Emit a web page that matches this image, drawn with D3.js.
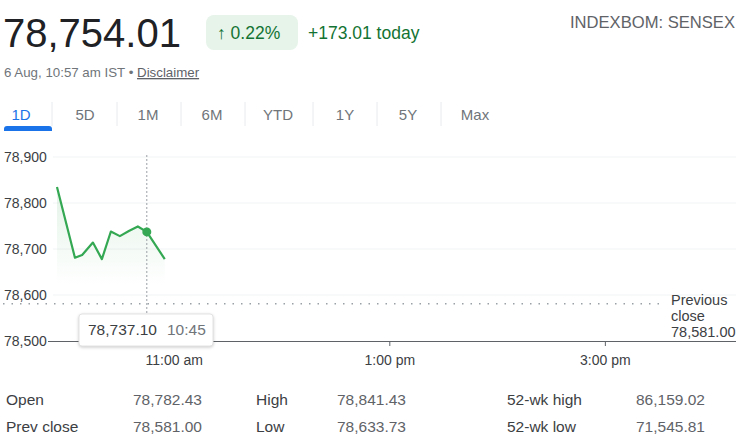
<!DOCTYPE html>
<html>
<head>
<meta charset="utf-8">
<script src="https://cdn.jsdelivr.net/npm/d3@7"></script>
<style>
  body { margin: 0; background: #fff; }
  svg { display: block; font-family: Arial, "Liberation Sans", sans-serif; }
</style>
</head>
<body>
<div id="chart"></div>
<script>
// intraday points (time, price)
const times = ['09:55', '10:05', '10:09', '10:15', '10:20', '10:25', '10:30', '10:35', '10:40', '10:45', '10:55'];
const prices = [78835, 78681, 78687, 78714, 78678, 78738, 78728, 78739, 78749, 78737.10, 78678];
const prevClose = 78581.00;
const yTicks = [78500, 78600, 78700, 78800, 78900];
const xTicks = ['11:00', '13:00', '15:00'];
const xTickLabels = ['11:00 am', '1:00 pm', '3:00 pm'];
const tabs = ['1D', '5D', '1M', '6M', 'YTD', '1Y', '5Y', 'Max'];
const statLabels = [['Open', 'Prev close'], ['High', 'Low'], ['52-wk high', '52-wk low']];
const statValues = [['78,782.43', '78,581.00'], ['78,841.43', '78,633.73'], ['86,159.02', '71,545.81']];

const width = 750;
const height = 441;
const green = '#34a853';

const parseTime = (s) => {
  const [h, m] = s.split(':').map(Number);
  return new Date(2024, 7, 6, h, m);
};

const data = times.map((t, i) => ({ date: parseTime(t), value: prices[i] }));
const hover = data[9];

const svg = d3.select('#chart')
  .append('svg')
  .attr('width', width)
  .attr('height', height);

// header
svg.append('text').attr('x', 3).attr('y', 47)
  .attr('font-size', 40).attr('fill', '#202124').text('78,754.01');

svg.append('rect').attr('x', 206).attr('y', 15).attr('width', 92).attr('height', 35)
  .attr('rx', 8).attr('fill', '#e6f4ea');
svg.append('text').attr('x', 217).attr('y', 39)
  .attr('font-size', 17.5).attr('fill', '#137333').text('\u2191 0.22%');
svg.append('text').attr('x', 308).attr('y', 39)
  .attr('font-size', 17.5).attr('fill', '#137333').text('+173.01 today');

svg.append('text').attr('x', 735).attr('y', 28).attr('text-anchor', 'end')
  .attr('font-size', 16.6).attr('fill', '#5f6368').text('INDEXBOM: SENSEX');

const sub = svg.append('text').attr('x', 4).attr('y', 77)
  .attr('font-size', 13.3).attr('fill', '#70757a');
sub.append('tspan').text('6 Aug, 10:57 am IST \u2022 ');
sub.append('tspan').attr('text-decoration', 'underline').attr('fill', '#5f6368').text('Disclaimer');

// tabs
const tabCenters = [21, 85, 148, 212, 278, 345, 408, 475];
const tabSeps = [52, 117, 181, 245, 313, 377, 441];
svg.append('g').selectAll('text').data(tabs).join('text')
  .attr('x', (d, i) => tabCenters[i]).attr('y', 120)
  .attr('text-anchor', 'middle').attr('font-size', 15)
  .attr('fill', (d, i) => i === 0 ? '#1a73e8' : '#70757a')
  .text((d) => d);
svg.append('g').selectAll('line').data(tabSeps).join('line')
  .attr('x1', (d) => d).attr('x2', (d) => d)
  .attr('y1', 102).attr('y2', 126)
  .attr('stroke', '#e8eaed');
svg.append('path')
  .attr('d', 'M4,131 L4,129 Q4,126 7,126 L49,126 Q52,126 52,129 L52,131 Z')
  .attr('fill', '#1a73e8');

// scales
const xScale = d3.scaleTime()
  .domain([new Date(2024, 7, 6, 9, 50), new Date(2024, 7, 6, 16, 13)])
  .range([48, 736]);
const yScale = d3.scaleLinear().domain([78500, 78900]).range([341, 157]);

// gridlines
svg.append('g').selectAll('line').data(yTicks.slice(1)).join('line')
  .attr('x1', 53).attr('x2', 736)
  .attr('y1', (d) => yScale(d)).attr('y2', (d) => yScale(d))
  .attr('stroke', '#f1f3f4');

// y labels
svg.append('g').selectAll('text').data(yTicks).join('text')
  .attr('x', 4).attr('y', (d) => yScale(d) + 5)
  .attr('font-size', 14).attr('fill', '#3c4043')
  .text((d) => d3.format(',')(d));

// previous close dotted line
svg.append('line')
  .attr('x1', 3).attr('x2', 665)
  .attr('y1', yScale(prevClose)).attr('y2', yScale(prevClose))
  .attr('stroke', '#9aa0a6').attr('stroke-width', 1.3)
  .attr('stroke-dasharray', '1.5,7');
const pc = svg.append('text').attr('x', 671).attr('font-size', 14.5).attr('fill', '#3c4043');
['Previous', 'close', d3.format(',.2f')(prevClose)].forEach((t, i) => {
  pc.append('tspan').attr('x', 671).attr('y', 305 + i * 16).text(t);
});

// area gradient
const defs = svg.append('defs');
const grad = defs.append('linearGradient').attr('id', 'fade')
  .attr('gradientUnits', 'userSpaceOnUse')
  .attr('x1', 0).attr('x2', 0).attr('y1', yScale(78840)).attr('y2', yScale(78620));
grad.append('stop').attr('offset', '0%').attr('stop-color', green).attr('stop-opacity', 0.14);
grad.append('stop').attr('offset', '100%').attr('stop-color', green).attr('stop-opacity', 0);

const area = d3.area()
  .x((d) => xScale(d.date))
  .y0(yScale(78600))
  .y1((d) => yScale(d.value));
svg.append('path').datum(data).attr('d', area).attr('fill', 'url(#fade)');

// x axis
const xAxis = d3.axisBottom(xScale)
  .tickValues(xTicks.map(parseTime))
  .tickSize(5)
  .tickFormat((d, i) => xTickLabels[i]);
const gx = svg.append('g').attr('transform', `translate(0, ${yScale(78500)})`).call(xAxis);
gx.select('.domain').attr('d', 'M48,0.5H736').attr('stroke', '#5f6368');
gx.selectAll('.tick line').attr('stroke', '#5f6368');
gx.selectAll('.tick text')
  .attr('font-size', 14).attr('fill', '#3c4043')
  .attr('font-family', 'Arial, "Liberation Sans", sans-serif')
  .attr('dy', '1.15em');

// hover line
svg.append('line')
  .attr('x1', xScale(hover.date)).attr('x2', xScale(hover.date))
  .attr('y1', 155).attr('y2', 341)
  .attr('stroke', '#9aa0a6').attr('stroke-dasharray', '2,2');

// price line
const line = d3.line()
  .x((d) => xScale(d.date))
  .y((d) => yScale(d.value));
svg.append('path').datum(data).attr('d', line)
  .attr('fill', 'none').attr('stroke', green).attr('stroke-width', 2.2)
  .attr('stroke-linejoin', 'round');

svg.append('circle')
  .attr('cx', xScale(hover.date)).attr('cy', yScale(hover.value))
  .attr('r', 4.5).attr('fill', green);

// tooltip
const tip = svg.append('g');
tip.append('rect').attr('x', 79).attr('y', 314).attr('width', 134).attr('height', 32)
  .attr('rx', 3).attr('fill', '#fff')
  .attr('stroke', '#e3e3e3')
  .style('filter', 'drop-shadow(0 1px 1.5px rgba(0,0,0,0.2))');
tip.append('text').attr('x', 88).attr('y', 335)
  .attr('font-size', 15.5).attr('fill', '#3c4043')
  .text(d3.format(',.2f')(hover.value));
tip.append('text').attr('x', 167).attr('y', 335)
  .attr('font-size', 15.5).attr('fill', '#70757a')
  .text(d3.timeFormat('%H:%M')(hover.date));

// stats table
const colX = [[6, 133], [256, 337], [507, 636]];
statLabels.forEach((col, c) => {
  col.forEach((label, r) => {
    svg.append('text').attr('x', colX[c][0]).attr('y', 405 + r * 27)
      .attr('font-size', 15.5).attr('fill', '#3c4043').text(label);
    svg.append('text').attr('x', colX[c][1]).attr('y', 405 + r * 27)
      .attr('font-size', 15.5).attr('fill', '#5f6368').text(statValues[c][r]);
  });
});
</script>
</body>
</html>
